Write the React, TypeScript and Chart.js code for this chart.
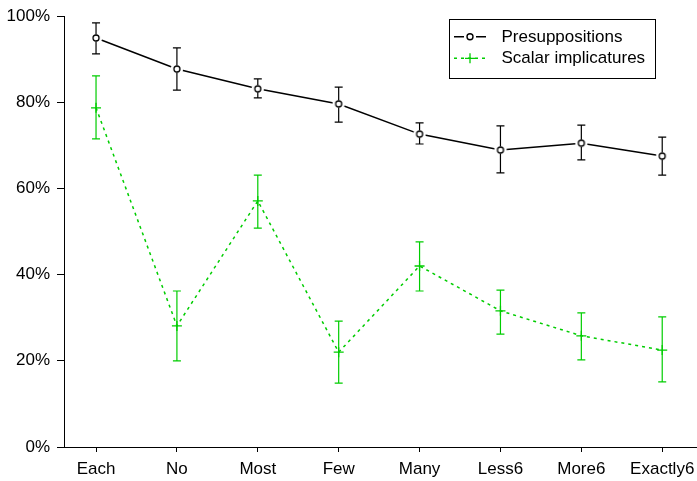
import React, { useEffect, useRef } from "react";
import { Chart, registerables } from "chart.js";

Chart.register(...registerables);

const categories = ["Each", "No", "Most", "Few", "Many", "Less6", "More6", "Exactly6"];
const yTicks = [0, 20, 40, 60, 80, 100];

const presupMean = [94.9, 87.7, 83.1, 79.6, 72.6, 68.9, 70.5, 67.5];
const presupLow = [91.2, 82.8, 81.0, 75.4, 70.3, 63.6, 66.6, 63.1];
const presupHigh = [98.4, 92.6, 85.4, 83.5, 75.2, 74.5, 74.7, 71.9];

const scalarMean = [78.7, 28.1, 57.1, 22.0, 42.0, 31.6, 25.8, 22.5];
const scalarLow = [71.5, 20.0, 50.8, 14.8, 36.2, 26.2, 20.2, 15.1];
const scalarHigh = [86.1, 36.2, 63.1, 29.2, 47.6, 36.4, 31.1, 30.2];

const GREEN = "rgb(0,205,0)";
const FONT = "'Liberation Sans', Arial, Helvetica, sans-serif";
const FSIZE = 17;

function makeCircleImage(): HTMLCanvasElement {
  const c = document.createElement("canvas");
  c.width = 16;
  c.height = 16;
  const ctx = c.getContext("2d")!;
  ctx.fillStyle = "white";
  ctx.beginPath();
  ctx.arc(8, 8, 6.2, 0, Math.PI * 2);
  ctx.fill();
  ctx.strokeStyle = "black";
  ctx.lineWidth = 1.3;
  ctx.beginPath();
  ctx.arc(8, 8, 3, 0, Math.PI * 2);
  ctx.stroke();
  return c;
}

const errorBarPlugin = {
  id: "errorBars",
  afterDatasetsDraw(chart: any) {
    const ctx = chart.ctx;
    const xs = chart.scales.x;
    const ys = chart.scales.y;
    const cap = 4;
    const drawSeries = (mean: number[], lo: number[], hi: number[], color: string, gap: number) => {
      ctx.save();
      ctx.strokeStyle = color;
      ctx.lineWidth = 1.2;
      mean.forEach((m, i) => {
        const x = xs.getPixelForValue(i + 1);
        const y = ys.getPixelForValue(m);
        const yl = ys.getPixelForValue(lo[i]);
        const yh = ys.getPixelForValue(hi[i]);
        ctx.beginPath();
        if (gap > 0) {
          ctx.moveTo(x, yh);
          ctx.lineTo(x, y - gap);
          ctx.moveTo(x, y + gap);
          ctx.lineTo(x, yl);
        } else {
          ctx.moveTo(x, yh);
          ctx.lineTo(x, yl);
        }
        ctx.moveTo(x - cap, yh);
        ctx.lineTo(x + cap, yh);
        ctx.moveTo(x - cap, yl);
        ctx.lineTo(x + cap, yl);
        ctx.stroke();
      });
      ctx.restore();
    };
    drawSeries(presupMean, presupLow, presupHigh, "black", 3.5);
    drawSeries(scalarMean, scalarLow, scalarHigh, GREEN, 0);

    // legend
    ctx.save();
    ctx.strokeStyle = "black";
    ctx.lineWidth = 1;
    ctx.strokeRect(449.5, 19.5, 206, 59);
    ctx.font = FSIZE + "px " + FONT;
    ctx.fillStyle = "black";
    ctx.textBaseline = "middle";
    ctx.textAlign = "left";
    const r1 = 36.7;
    ctx.lineWidth = 1.4;
    ctx.beginPath();
    ctx.moveTo(454, r1);
    ctx.lineTo(464, r1);
    ctx.moveTo(476, r1);
    ctx.lineTo(486, r1);
    ctx.stroke();
    ctx.beginPath();
    ctx.arc(470, r1, 3, 0, Math.PI * 2);
    ctx.stroke();
    ctx.fillText("Presuppositions", 501.5, r1 + 0.5);
    const r2 = 58.3;
    ctx.strokeStyle = GREEN;
    ctx.setLineDash([3, 4]);
    ctx.beginPath();
    ctx.moveTo(454, r2);
    ctx.lineTo(486, r2);
    ctx.stroke();
    ctx.setLineDash([]);
    ctx.lineWidth = 1.3;
    ctx.beginPath();
    ctx.moveTo(465, r2);
    ctx.lineTo(475, r2);
    ctx.moveTo(470, r2 - 5);
    ctx.lineTo(470, r2 + 5);
    ctx.stroke();
    ctx.fillText("Scalar implicatures", 501.5, r2 + 0.5);
    ctx.restore();
  },
};

export default function App() {
  const ref = useRef<HTMLCanvasElement>(null);
  useEffect(() => {
    document.body.style.margin = "0";
    const circleImg = makeCircleImage();
    const chart = new Chart(ref.current!, {
      type: "line",
      data: {
        datasets: [
          {
            label: "Presuppositions",
            data: presupMean.map((v, i) => ({ x: i + 1, y: v })),
            borderColor: "black",
            borderWidth: 1.5,
            pointStyle: circleImg as any,
            pointRadius: 6,
            tension: 0,
          },
          {
            label: "Scalar implicatures",
            data: scalarMean.map((v, i) => ({ x: i + 1, y: v })),
            borderColor: GREEN,
            borderWidth: 1.5,
            borderDash: [3, 4],
            pointStyle: "cross",
            pointRadius: 5,
            pointBorderColor: GREEN,
            pointBorderWidth: 1.3,
            tension: 0,
          },
        ],
      },
      options: {
        animation: false,
        responsive: false,
        devicePixelRatio: 1,
        layout: { autoPadding: false, padding: { top: 16, right: 0, left: 0, bottom: 0 } },
        plugins: { legend: { display: false }, tooltip: { enabled: false } },
        scales: {
          x: {
            type: "linear",
            min: 0.604,
            max: 8.43,
            afterFit: (s: any) => {
              s.height = 34;
              s.paddingLeft = 0;
              s.paddingRight = 0;
            },
            afterBuildTicks: (s: any) => {
              s.ticks = categories.map((_, i) => ({ value: i + 1 }));
            },
            grid: { drawOnChartArea: false, drawTicks: true, tickLength: 5, color: "black" },
            border: { display: true, color: "black", width: 1 },
            ticks: {
              autoSkip: false,
              maxRotation: 0,
              padding: 7,
              color: "black",
              font: { family: FONT, size: FSIZE },
              callback: (v: any) => categories[Math.round(v) - 1] ?? "",
            },
          },
          y: {
            type: "linear",
            min: 0,
            max: 100,
            afterFit: (s: any) => {
              s.width = 64;
              s.paddingTop = 0;
              s.paddingBottom = 0;
            },
            afterBuildTicks: (s: any) => {
              s.ticks = yTicks.map((v) => ({ value: v }));
            },
            grid: { drawOnChartArea: false, drawTicks: true, tickLength: 7, color: "black" },
            border: { display: true, color: "black", width: 1 },
            ticks: {
              padding: 7,
              color: "black",
              font: { family: FONT, size: FSIZE },
              callback: (v: any) => v + "%",
            },
          },
        },
      },
      plugins: [errorBarPlugin],
    });
    return () => chart.destroy();
  }, []);
  return <canvas ref={ref} width={697} height={481} style={{ display: "block" }} />;
}
